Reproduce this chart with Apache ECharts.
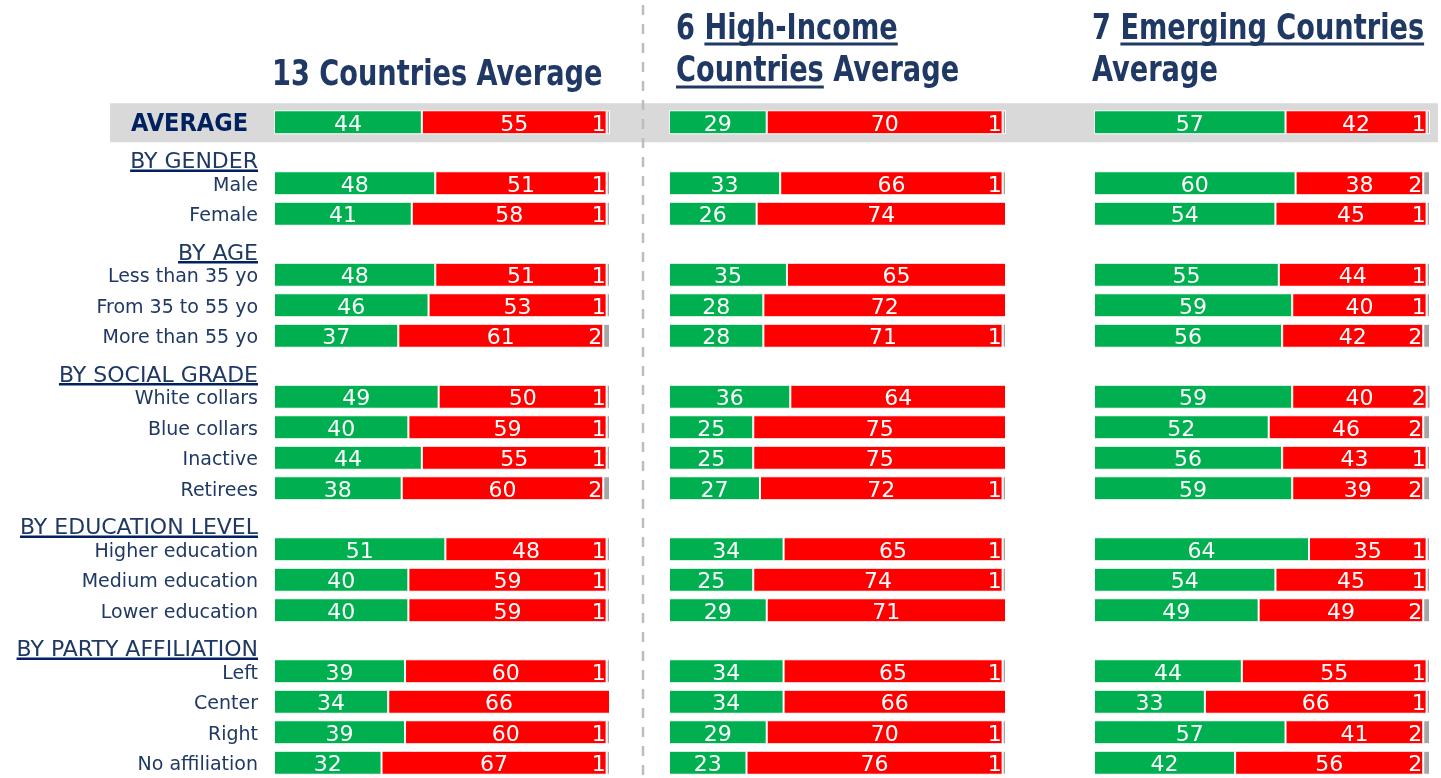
<!DOCTYPE html>
<html>
<head>
<meta charset="utf-8">
<script src="https://cdn.jsdelivr.net/npm/echarts@6/dist/echarts.min.js"></script>
<style>
html,body{margin:0;padding:0;background:#fff;}
#main{width:1441px;height:778px;}
</style>
</head>
<body>
<div id="main"></div>
<script>

// rows (top to bottom)
var categories = ['AVERAGE','BY GENDER','Male','Female','BY AGE','Less than 35 yo','From 35 to 55 yo','More than 55 yo',
	'BY SOCIAL GRADE','White collars','Blue collars','Inactive','Retirees','BY EDUCATION LEVEL','Higher education',
	'Medium education','Lower education','BY PARTY AFFILIATION','Left','Center','Right','No affiliation'];
var headers = ['BY GENDER','BY AGE','BY SOCIAL GRADE','BY EDUCATION LEVEL','BY PARTY AFFILIATION'];

// 13 countries average
var all_green = [44,'-',48,41,'-',48,46,37,'-',49,40,44,38,'-',51,40,40,'-',39,34,39,32];
var all_red   = [55,'-',51,58,'-',51,53,61,'-',50,59,55,60,'-',48,59,59,'-',60,66,60,67];
var all_grey  = [1,'-',1,1,'-',1,1,2,'-',1,1,1,2,'-',1,1,1,'-',1,0,1,1];

// 6 high-income countries
var high_green = [29,'-',33,26,'-',35,28,28,'-',36,25,25,27,'-',34,25,29,'-',34,34,29,23];
var high_red   = [70,'-',66,74,'-',65,72,71,'-',64,75,75,72,'-',65,74,71,'-',65,66,70,76];
var high_grey  = [1,'-',1,0,'-',0,0,1,'-',0,0,0,1,'-',1,1,0,'-',1,0,1,1];

// 7 emerging countries
var emer_green = [57,'-',60,54,'-',55,59,56,'-',59,52,56,59,'-',64,54,49,'-',44,33,57,42];
var emer_red   = [42,'-',38,45,'-',44,40,42,'-',40,46,43,39,'-',35,45,49,'-',55,66,41,56];
var emer_grey  = [1,'-',2,1,'-',1,1,2,'-',2,2,1,2,'-',1,1,2,'-',1,1,2,2];

var panels = [
	{left:274, width:336, data:[all_green, all_red, all_grey]},
	{left:669, width:337, data:[high_green, high_red, high_grey]},
	{left:1094, width:336, data:[emer_green, emer_red, emer_grey]}
];

var colors = ['#00B050','#FF0000','#A6A6A6'];
var navy = '#1F3864';
var labelFont = '"DejaVu Sans", sans-serif';
var condFont = '"DejaVu Sans Condensed", "DejaVu Sans", sans-serif';

var myChart = echarts.init(document.getElementById('main'));

var grids = [], xAxes = [], yAxes = [], series = [];

for (let i = 0; i < panels.length; i++) {
	grids.push({left: panels[i].left, width: panels[i].width, top: 107, height: 676});
	xAxes.push({type: 'value', gridIndex: i, min: 0, max: 100, show: false});
	yAxes.push({
		type: 'category', gridIndex: i, data: categories, inverse: true,
		axisLine: {show: false}, axisTick: {show: false}, splitLine: {show: false},
		axisLabel: {
			show: i === 0,
			margin: 16,
			color: navy,
			fontSize: 19,
			fontFamily: labelFont,
			padding: [5, 0, 0, 0],
			formatter: function (v) {
				if (v === 'AVERAGE') return '{a|' + v + '}';
				if (headers.indexOf(v) >= 0) return '{h|' + v + '}';
				return v;
			},
			rich: {
				a: {fontSize: 25, fontWeight: 'bold', color: '#002060', fontFamily: condFont, padding: [0, 10, 0, 0]},
				h: {fontSize: 22, color: navy, fontFamily: labelFont, padding: [15, 0, 0, 0]}
			}
		}
	});
	for (let k = 0; k < 3; k++) {
		series.push({
			type: 'bar',
			stack: 'p' + i,
			xAxisIndex: i,
			yAxisIndex: i,
			barWidth: 24,
			data: panels[i].data[k],
			itemStyle: {color: colors[k], borderColor: '#fff', borderWidth: 1},
			label: {
				show: true,
				position: k === 2 ? 'left' : 'inside',
				distance: 1,
				offset: [0, 3],
				color: '#fff',
				fontSize: 22,
				fontFamily: labelFont,
				formatter: function (p) { return p.value ? String(p.value) : ''; }
			},
			emphasis: {disabled: true},
			animation: false
		});
	}
}

var option = {
	animation: false,
	grid: grids,
	xAxis: xAxes,
	yAxis: yAxes,
	series: series
};
myChart.setOption(option);

// text measuring for underlines
var ctx = document.createElement('canvas').getContext('2d');
function textWidth(txt, font) {
	ctx.font = font;
	return ctx.measureText(txt).width;
}

var graphics = [];
var rowY = myChart.convertToPixel({yAxisIndex: 0}, 'AVERAGE');

// grey band behind the average row
graphics.push({type: 'rect', z: -10, shape: {x: 110, y: rowY - 19, width: 1328, height: 39}, style: {fill: '#D9D9D9'}});

// dashed separator
graphics.push({type: 'line', z: -5, shape: {x1: 643, y1: 5, x2: 643, y2: 778},
	style: {stroke: '#BDBDBD', lineWidth: 2.5, lineDash: [10, 9]}});

// underlines for the row group headers
headers.forEach(function (h) {
	let y = myChart.convertToPixel({yAxisIndex: 0}, h);
	let w = textWidth(h, '22px ' + labelFont);
	let right = panels[0].left - 16;
	graphics.push({type: 'line', shape: {x1: right - w, y1: y + 18, x2: right, y2: y + 18},
		style: {stroke: '#002060', lineWidth: 2.5}});
});

// titles (condensed bold, squeezed a little to match the original face)
var tFont = 'bold 36px ' + condFont;
var sx = 0.84;
function title(txt, x, y) {
	graphics.push({type: 'text', x: x, y: y, scaleX: sx,
		style: {text: txt, font: tFont, fill: navy, verticalAlign: 'middle', align: 'left'}});
}
function underline(before, txt, x, y) {
	let x1 = x + textWidth(before, tFont) * sx;
	let x2 = x1 + textWidth(txt, tFont) * sx;
	graphics.push({type: 'line', shape: {x1: x1, y1: y, x2: x2, y2: y}, style: {stroke: navy, lineWidth: 3}});
}
title('13 Countries Average', 272, 76);
title('6 High-Income', 676, 30);
underline('6 ', 'High-Income', 676, 44);
title('Countries Average', 676, 72);
underline('', 'Countries', 676, 87);
title('7 Emerging Countries', 1092, 30);
underline('7 ', 'Emerging Countries', 1092, 44);
title('Average', 1092, 72);

myChart.setOption({graphic: graphics});

</script>
</body>
</html>
